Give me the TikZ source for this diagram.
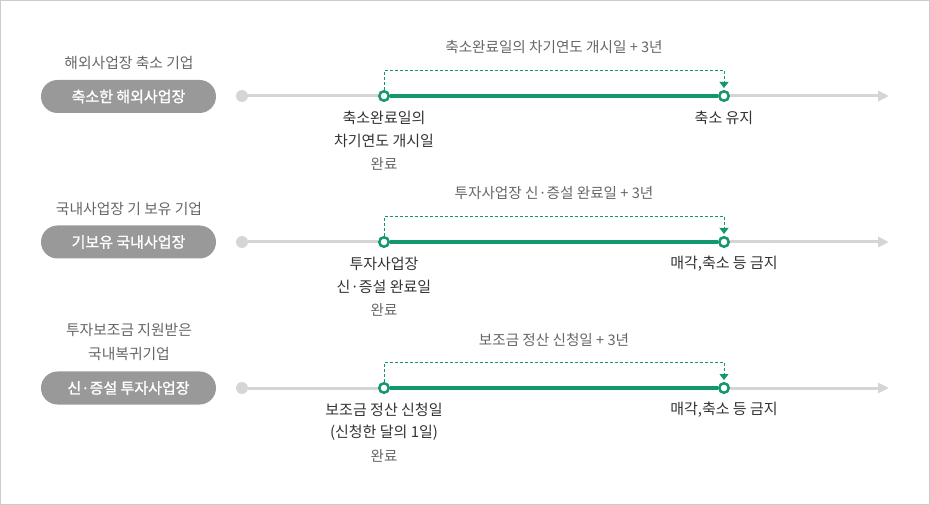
\documentclass[tikz,border=0pt]{standalone}
\usepackage{fontspec}
\setmainfont{Noto Sans CJK KR}
\newfontfamily\pillfont{Noto Sans CJK KR}[FakeBold=1.3]
\usetikzlibrary{arrows.meta,calc}
\definecolor{brand}{HTML}{12976F}
\definecolor{lgray}{HTML}{D5D5D5}
\definecolor{pillgray}{HTML}{999999}
\definecolor{txtdark}{HTML}{333333}
\definecolor{txtgray}{HTML}{666666}
\definecolor{framegray}{HTML}{CCCCCC}
\tikzset{
  pill/.style={rectangle, rounded corners=16.5pt, fill=pillgray, text=white, minimum width=175pt, minimum height=33pt, inner sep=0pt, font=\fontsize{15pt}{16pt}\pillfont},
  titlelabel/.style={text=txtgray, font=\fontsize{14.8pt}{18pt}\selectfont, inner sep=0pt},
  toplabel/.style={text=txtgray, font=\fontsize{14.6pt}{18pt}\selectfont, inner sep=0pt},
  belowlabel/.style={text=txtdark, font=\fontsize{15pt}{18pt}\selectfont, inner sep=0pt},
  donelabel/.style={text=txtgray, font=\fontsize{14.5pt}{18pt}\selectfont, inner sep=0pt},
  startdot/.style={circle, fill=lgray, minimum size=12pt, inner sep=0pt},
  markdot/.style={circle, draw=brand, fill=white, line width=2.5pt, minimum size=9.5pt, inner sep=0pt},
  grayline/.style={draw=lgray, line width=3pt},
  grayarrow/.style={draw=lgray, line width=3pt, -{Triangle[width=10pt,length=11pt]}},
  greenline/.style={draw=brand, line width=4pt},
  dashline/.style={draw=brand, line width=1pt, dash pattern=on 3pt off 2pt, -{Triangle[width=9pt,length=6pt]}},
}
\begin{document}
\begin{tikzpicture}[x=1pt,y=-1pt]
\useasboundingbox (0,0) rectangle (930,505);
\draw[framegray, line width=1pt] (0.5,0.5) rectangle (929.5,504.5);

% ---------- Row 1 ----------
\node[titlelabel] (t1) at (129,63) {해외사업장 축소 기업};
\node[pill] (p1) at (128.5,96.5) {축소한 해외사업장};
\node[startdot] (g1) at (242,96) {};
\node[markdot] (s1) at (384,96) {};
\node[markdot] (e1) at (724,96) {};
\coordinate (a1) at (889,96);
\draw[grayline] (g1) -- (s1);
\draw[grayarrow] (e1) -- (a1);
\draw[greenline] (s1) -- (e1);
\draw[dashline] (s1.north) -- ++(0,-19.5) -| ([yshift=2pt]e1.north);
\node[toplabel] (l1) at (554,47) {축소완료일의 차기연도 개시일 + 3년};
\node[belowlabel] (b1a) at (384,118) {축소완료일의};
\node[belowlabel] (b1b) at (384,141) {차기연도 개시일};
\node[donelabel] (c1) at (384,164) {완료};
\node[belowlabel] (r1) at (724,118) {축소 유지};

% ---------- Row 2 ----------
\node[titlelabel] (t2) at (129,209) {국내사업장 기 보유 기업};
\node[pill] (p2) at (128.5,242) {기보유 국내사업장};
\node[startdot] (g2) at (242,242) {};
\node[markdot] (s2) at (384,242) {};
\node[markdot] (e2) at (724,242) {};
\coordinate (a2) at (889,242);
\draw[grayline] (g2) -- (s2);
\draw[grayarrow] (e2) -- (a2);
\draw[greenline] (s2) -- (e2);
\draw[dashline] (s2.north) -- ++(0,-19.5) -| ([yshift=2pt]e2.north);
\node[toplabel] (l2) at (554,193.5) {투자사업장 신·증설 완료일 + 3년};
\node[belowlabel] (b2a) at (384,264) {투자사업장};
\node[belowlabel] (b2b) at (384,287) {신·증설 완료일};
\node[donelabel] (c2) at (384,310) {완료};
\node[belowlabel] (r2) at (724,264) {매각,축소 등 금지};

% ---------- Row 3 ----------
\node[titlelabel] (t3a) at (129,330) {투자보조금 지원받은};
\node[titlelabel] (t3b) at (129,354) {국내복귀기업};
\node[pill] (p3) at (128.5,388) {신·증설 투자사업장};
\node[startdot] (g3) at (242,388) {};
\node[markdot] (s3) at (384,388) {};
\node[markdot] (e3) at (724,388) {};
\coordinate (a3) at (889,388);
\draw[grayline] (g3) -- (s3);
\draw[grayarrow] (e3) -- (a3);
\draw[greenline] (s3) -- (e3);
\draw[dashline] (s3.north) -- ++(0,-19.5) -| ([yshift=2pt]e3.north);
\node[toplabel] (l3) at (554,339.5) {보조금 정산 신청일 + 3년};
\node[belowlabel] (b3a) at (384,410) {보조금 정산 신청일};
\node[belowlabel] (b3b) at (384,433) {(신청한 달의 1일)};
\node[donelabel] (c3) at (384,456) {완료};
\node[belowlabel] (r3) at (724,410) {매각,축소 등 금지};
\end{tikzpicture}
\end{document}
